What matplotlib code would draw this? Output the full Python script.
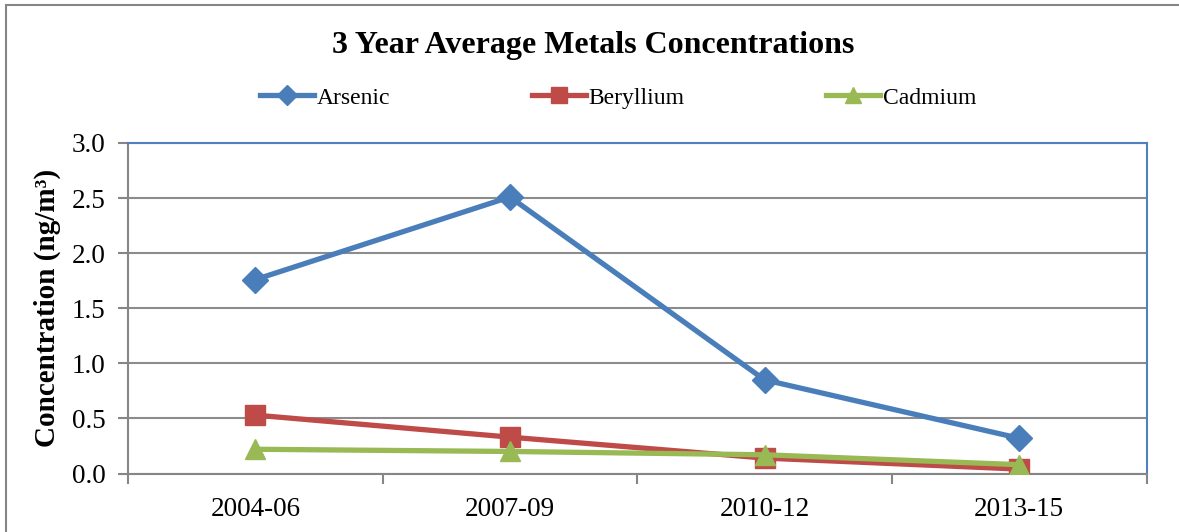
import matplotlib
matplotlib.use('Agg')
import matplotlib.pyplot as plt
from matplotlib.patches import Rectangle
import numpy as np

plt.rcParams['font.family'] = ['Liberation Serif', 'DejaVu Serif']

periods = ['2004-06', '2007-09', '2010-12', '2013-15']
arsenic = [1.76, 2.51, 0.85, 0.32]
beryllium = [0.53, 0.33, 0.14, 0.04]
cadmium = [0.22, 0.20, 0.17, 0.08]

fig = plt.figure(figsize=(11.79, 5.32), dpi=100)
ax = fig.add_axes([128/1179, 1 - 473.5/532, (1146.5-128)/1179, (473.5-143)/532])

# outer chart border (only top/left edges visible)
fig.patches.append(Rectangle((6/1179, -0.1), 1.5, 1 - 5/532 + 0.1, transform=fig.transFigure,
                             fill=False, edgecolor='#868686', linewidth=1.5))

x = np.arange(len(periods))
ax.plot(x, arsenic, color='#4A7EBB', lw=3.8, marker='D', ms=13, label='Arsenic', zorder=5)
ax.plot(x, beryllium, color='#BE4B48', lw=3.8, marker='s', ms=14, label='Beryllium', zorder=4)
ax.plot(x, cadmium, color='#98B954', lw=3.8, marker='^', ms=15, label='Cadmium', zorder=6)

ax.set_xlim(-0.5, 3.5)
ax.set_ylim(0, 3.0)
ax.set_yticks(np.arange(0, 3.01, 0.5))
ax.set_yticklabels(['%.1f' % v for v in np.arange(0, 3.01, 0.5)], fontsize=19.5)
ax.set_xticks(x)
ax.set_xticklabels(periods, fontsize=19.5)
ax.tick_params(axis='x', which='major', length=0, pad=17)
ax.set_xticks(np.arange(-0.5, 3.6, 1), minor=True)
ax.tick_params(axis='x', which='minor', length=7, width=1.5, color='#868686', direction='out')
ax.tick_params(axis='y', length=7, width=1.5, color='#868686', direction='out', pad=9)

ax.grid(axis='y', color='#8C8C8C', lw=1.5, zorder=0)
ax.set_axisbelow(True)
for s in ['left', 'bottom']:
    ax.spines[s].set_color('#868686')
    ax.spines[s].set_linewidth(1.5)
for s in ['top', 'right']:
    ax.spines[s].set_color('#4F81BD')
    ax.spines[s].set_linewidth(1.5)

ax.set_ylabel('Concentration (ng/m\u00b3)', fontsize=21, fontweight='bold', labelpad=8)

fig.text(0.503, 1 - 45/532, '3 Year Average Metals Concentrations', ha='center', va='center',
         fontsize=23, fontweight='bold')
fig.legend(loc='center', bbox_to_anchor=(0.524, 1 - 98/532), ncol=3, frameon=False,
           fontsize=17, handlelength=2.3, handletextpad=0.1, columnspacing=6.0,
           markerscale=0.8)

fig.savefig('out.png', dpi=100)
